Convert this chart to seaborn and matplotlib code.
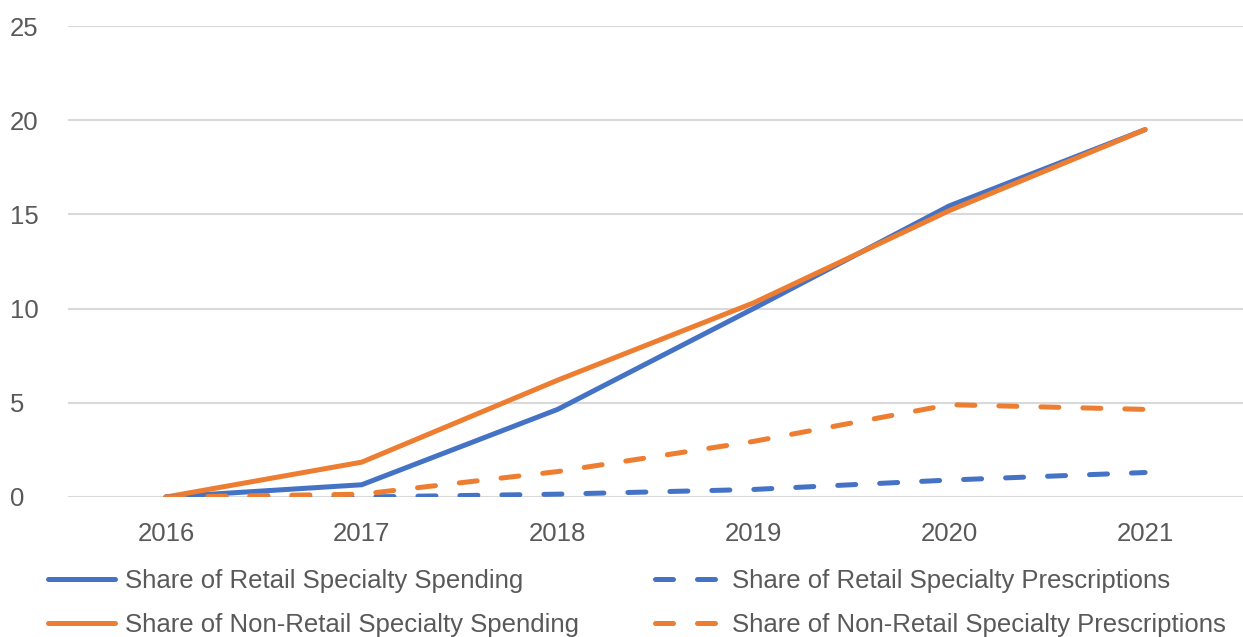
import matplotlib
matplotlib.use("Agg")
import matplotlib.pyplot as plt
import seaborn as sns
import pandas as pd

years = [2016, 2017, 2018, 2019, 2020, 2021]
retail_spending = [0.0, 0.65, 4.65, 10.0, 15.45, 19.5]
nonretail_spending = [0.0, 1.85, 6.2, 10.3, 15.2, 19.5]
retail_rx = [0.0, 0.0, 0.15, 0.4, 0.9, 1.3]
nonretail_rx = [0.0, 0.15, 1.35, 2.95, 4.9, 4.65]

series_names = [
    "Share of Retail Specialty Spending",
    "Share of Non-Retail Specialty Spending",
    "Share of Retail Specialty Prescriptions",
    "Share of Non-Retail Specialty Prescriptions",
]

df = pd.DataFrame({
    "year": years * 4,
    "value": retail_spending + nonretail_spending + retail_rx + nonretail_rx,
    "series": sum([[n] * len(years) for n in series_names], []),
})

BLUE = "#4472C4"
ORANGE = "#ED7D31"
TEXT = "#595959"

sns.set_style("white")
plt.rcParams["font.family"] = ["Liberation Sans", "DejaVu Sans"]

fig = plt.figure(figsize=(12.43, 6.37), dpi=100)
ax = fig.add_axes([68 / 1243, 1 - 497 / 637, 1175 / 1243, 471 / 637])

colors = {series_names[0]: BLUE, series_names[1]: ORANGE,
          series_names[2]: BLUE, series_names[3]: ORANGE}
dashed = {series_names[2], series_names[3]}

handles = []
for name in series_names:
    sub = df[df["series"] == name]
    sns.lineplot(data=sub, x="year", y="value", ax=ax, color=colors[name],
                 linewidth=3.6, legend=False)
    line = ax.lines[-1]
    line.set_solid_capstyle("round")
    if name in dashed:
        line.set_dashes([3.6, 4.8])
        line.set_dash_capstyle("round")
    handles.append(line)

ax.set_xlim(2015.5, 2021.5)
ax.set_ylim(0, 25)
ax.set_yticks([0, 5, 10, 15, 20, 25])
ax.set_xticks(years)
ax.yaxis.grid(True, color="#D9D9D9", linewidth=1.5)
ax.set_axisbelow(True)
for s in ax.spines.values():
    s.set_visible(False)
ax.set_xlabel("")
ax.set_ylabel("")
ax.tick_params(axis="both", length=0, labelsize=18.5, colors=TEXT)
ax.tick_params(axis="x", pad=18)
ax.tick_params(axis="y", pad=42)
for lab in ax.get_yticklabels():
    lab.set_horizontalalignment("left")

fig.legend(handles, series_names, ncol=2, loc="upper left",
           bbox_to_anchor=(38 / 1243, 1 - 559 / 637), frameon=False,
           fontsize=18.5, labelcolor=TEXT, handlelength=2.6, handletextpad=0.4,
           columnspacing=2.95, labelspacing=0.75, borderaxespad=0)

fig.savefig("out.png", dpi=100)
